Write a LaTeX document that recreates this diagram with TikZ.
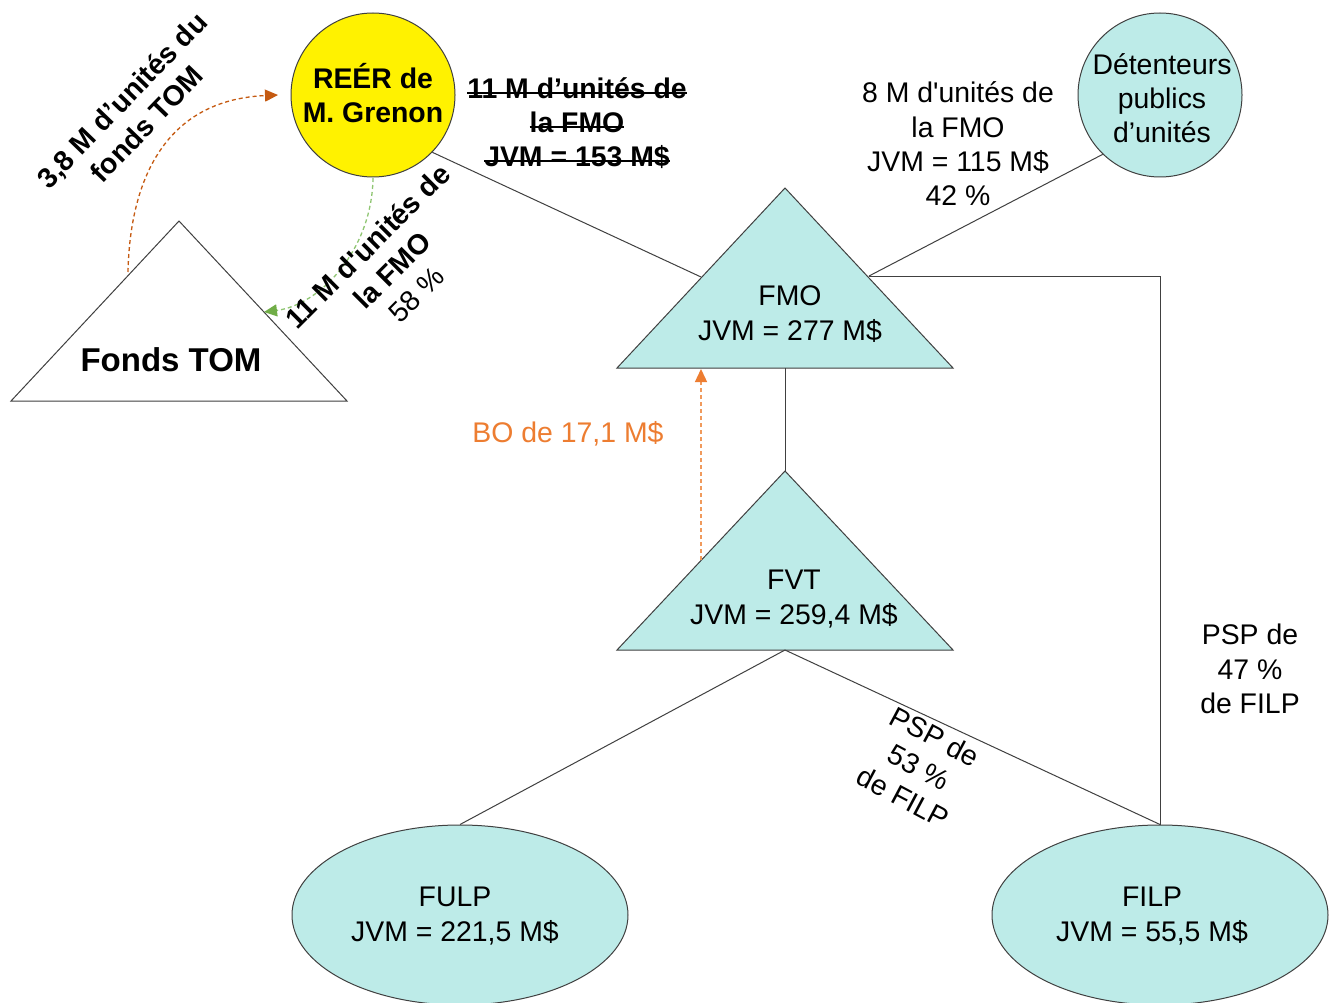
\documentclass[tikz,border=0pt]{standalone}
\usepackage{fontspec}
\setmainfont{Liberation Sans}
\usetikzlibrary{arrows.meta,shapes.geometric}
\newcommand{\mystrike}[1]{\setbox0\hbox{#1}\rlap{\rule[0.16em]{\wd0}{2pt}}\box0}
\definecolor{cyanfill}{HTML}{BDEBE8}
\definecolor{linegray}{HTML}{404040}
\definecolor{orangetxt}{HTML}{ED7D31}
\definecolor{orangeline}{HTML}{F09A5C}
\definecolor{darkorange}{HTML}{C55A11}
\definecolor{greenline}{HTML}{8FC672}
\definecolor{greenhead}{HTML}{70AD47}
\begin{document}
\begin{tikzpicture}[x=1pt,y=-1pt,
  txt/.style={font=\fontsize{28.4}{34.3}\selectfont, align=center, inner sep=0pt},
  btxt/.style={font=\fontsize{28.4}{34.3}\selectfont\bfseries, align=center, inner sep=0pt},
  conn/.style={draw=linegray, line width=1pt},
  shapeline/.style={draw=linegray, line width=1pt},
  tri/.style={shapeline, fill=cyanfill},
  flowdash/.style={dash pattern=on 4pt off 3pt, line width=1.3pt}
]
\useasboundingbox (0,0) rectangle (1335,1003);
\fill[white] (0,0) rectangle (1335,1003);

% ---- shapes ----
\node[circle, shapeline, fill=yellow, minimum size=164pt, inner sep=0pt] (reer) at (373,95) {};
\node[circle, shapeline, fill=cyanfill, minimum size=164pt, inner sep=0pt] (det) at (1160,95) {};

\coordinate (tomA) at (179,221);
\coordinate (tomL) at (11,401);
\coordinate (tomR) at (347,401);
\draw[shapeline, fill=white] (tomA) -- (tomR) -- (tomL) -- cycle;

\coordinate (fmoA) at (785,188);
\coordinate (fmoBL) at (617,368);
\coordinate (fmoBR) at (953,368);
\draw[tri] (fmoA) -- (fmoBR) -- (fmoBL) -- cycle;

\coordinate (fvtA) at (785,471);
\coordinate (fvtBL) at (617,650);
\coordinate (fvtBR) at (953,650);
\draw[tri] (fvtA) -- (fvtBR) -- (fvtBL) -- cycle;

\node[ellipse, shapeline, fill=cyanfill, minimum width=336pt, minimum height=180pt, inner sep=0pt] (fulp) at (460,915) {};
\node[ellipse, shapeline, fill=cyanfill, minimum width=336pt, minimum height=180pt, inner sep=0pt] (filp) at (1160,915) {};

% ---- connector points ----
\coordinate (fmoL) at (701,277);
\coordinate (fmoR) at (869,276);
\coordinate (fmoB) at (785,368);
\coordinate (fvtB) at (785,650);
\coordinate (boS) at (701,560);
\coordinate (boE) at (701,369);
\coordinate (tomS) at (128,272);
\coordinate (reerIn) at (278,95);
\coordinate (reerS) at (373,178);
\coordinate (tomIn) at (264,312);

% ---- connectors ----
\draw[conn] (reer.-44) -- (fmoL);
\draw[conn] (det.226) -- (fmoR);
\draw[conn] (fmoR) -| (filp.north);
\draw[conn] (fmoB) -- (fvtA);
\draw[conn] (fvtB) -- (fulp.north);
\draw[conn] (fvtB) -- (filp.north);

\draw[flowdash, draw=orangeline, -{Triangle[length=13pt,width=12pt,color=orangetxt]}] (boS) -- (boE);
\draw[flowdash, draw=darkorange, -{Triangle[length=13pt,width=12pt,color=darkorange]}] (tomS) .. controls (130,180) and (165,100) .. (reerIn);
\draw[flowdash, draw=greenline, -{Triangle[length=13pt,width=12pt,color=greenhead]}] (reerS) .. controls (372,250) and (320,305) .. (tomIn);

% ---- texts ----
\node[btxt] (reerT) at (373,93) {REÉR de\\M. Grenon};
\node[txt] (detT) at (1162,98) {Détenteurs\\publics\\d’unités};
\node[btxt] (strikeT) at (577,123) {\mystrike{11 M d’unités de}\\\mystrike{la FMO}\\\mystrike{JVM = 153 M\$}};
\node[txt] (pubT) at (958,144) {8 M d\textquotesingle unités de\\la FMO\\JVM = 115 M\$\\42 \%};
\node[txt] (fmoT) at (790,314) {FMO\\JVM = 277 M\$};
\node[txt] (fvtT) at (794,599) {FVT\\JVM = 259,4 M\$};
\node[txt] (fulpT) at (455,916) {FULP\\JVM = 221,5 M\$};
\node[txt] (filpT) at (1152,916) {FILP\\JVM = 55,5 M\$};
\node[txt] (psp47) at (1250,669) {PSP de\\47 \%\\de FILP};
\node[txt, rotate=-28] (psp53) at (919,767) {PSP de\\53 \%\\de FILP};
\node[inner sep=0pt, align=center, font=\fontsize{33}{38}\selectfont\bfseries] (tomT) at (171,360) {Fonds TOM};
\node[txt, text=orangetxt] (boT) at (568,434) {BO de 17,1 M\$};
\node[btxt, rotate=46] (tomflow) at (134,112) {3,8 M d’unités du\\fonds TOM};
\node[txt, rotate=45] (fmoflow) at (392,270) {\textbf{11 M d\textquotesingle unités de}\\\textbf{la FMO}\\58 \%};
\end{tikzpicture}
\end{document}
